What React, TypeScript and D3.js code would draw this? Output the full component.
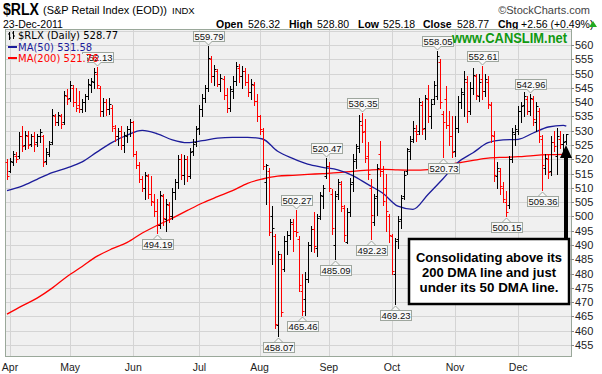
import React from 'react';
import * as d3 from 'd3';

// daily OHLC, Mar 31 2011 .. Dec 23 2011
const opens = [
  519, 516, 519, 521, 521, 528, 525, 528, 525.5, 528, 526, 528, 528, 519.5, 522, 526, 535, 533, 535, 533,
  542, 541.5, 545, 540, 539, 537.5, 540, 542, 546, 547, 550, 545, 537, 540, 537.5, 538, 531, 528, 530, 525,
  528, 530.5, 533, 522, 518, 513, 510, 514, 508, 505, 502, 497, 507, 499, 504, 500, 508.5, 512, 520, 514.5,
  520, 514, 523, 526, 531, 537.5, 541.5, 545, 555, 549, 551, 546.5, 548, 542.5, 538, 544, 547.5, 552, 549, 551,
  547, 543.5, 546, 540.5, 535, 530, 512, 516, 500, 493, 462, 485, 481.5, 491.5, 493.5, 497.5, 495, 492, 474, 471,
  478, 490, 495.5, 489, 500, 507, 514, 517.5, 508, 490, 508, 511.5, 503, 491, 501.5, 512, 520, 524, 532, 530,
  521, 510, 498, 507, 522, 516, 510, 500, 493, 480, 492, 499, 507, 516, 523, 527, 530, 530, 539, 531,
  541, 535, 541, 542, 554, 536, 541, 532, 528, 523, 531, 540, 543, 547, 537, 545, 549, 542, 548, 544,
  547, 539, 528, 514, 516, 510, 505, 504, 520, 529, 530, 537, 539, 541, 537, 541, 533, 537, 527, 517,
  520, 516, 526, 521, 527, 525.5, 526.32,
];
const highs = [
  520, 520.5, 523, 522.5, 529.5, 531.5, 530, 530, 529, 529.5, 529, 530.5, 528.5, 524, 526.5, 537.5, 536, 536.5, 536, 544,
  544.5, 547.5, 546, 545, 544, 541, 543, 548, 548.5, 552, 552.13, 545.5, 541.5, 541, 541.5, 539, 532, 531, 531.5, 529.5,
  531.5, 534, 533.5, 523, 519, 514, 515.5, 515, 514, 508, 506, 509, 508, 506, 505, 510, 513, 521.5, 522, 521.5,
  521, 524, 527, 531.5, 539, 543, 546, 559.79, 556, 553, 551.5, 550, 549, 545, 545.5, 549, 554, 553.5, 552.5, 552,
  550, 548, 547, 543, 535.5, 531, 518.5, 517, 503.5, 494, 488, 487, 493, 495, 499, 499, 502.27, 493, 480, 480.5,
  491, 496.5, 501.5, 501, 508.5, 511, 520.47, 519, 509.5, 509, 513, 512.5, 504, 503, 513.5, 522, 525.5, 535.5, 536.35, 534,
  526, 513, 508, 518.5, 526.5, 517.5, 515, 501, 494, 492.5, 500, 507.5, 516, 524, 528, 533.5, 532, 541.5, 540.5, 542.5,
  546, 541, 547.5, 558.05, 555, 537, 545.5, 537, 535, 535, 542, 545, 551, 549, 547, 552, 550, 550, 552.61, 550,
  549, 540, 530, 519, 517, 512, 509, 521, 531, 532, 538.5, 540, 543.5, 542, 542.96, 542, 540, 538, 528.5, 522,
  521.5, 528, 530, 531, 530, 529, 528.8,
];
const lows = [
  513, 515.5, 518, 519, 520.5, 523, 523.5, 524, 524.5, 523, 524.5, 526, 517.5, 518.5, 521, 525.5, 532, 532, 531, 532.5,
  539.5, 540.5, 538.5, 537, 536.5, 536.5, 537, 541, 543.5, 545, 545, 535, 535, 535.5, 536, 530, 526.5, 525, 523.5, 522.5,
  526, 528, 521, 517, 512, 509, 506, 506.5, 504, 500, 494.19, 496, 497, 495, 498, 499, 506, 510, 513, 511.5,
  512.5, 513.5, 521.5, 524.5, 529, 535, 540, 544, 547, 546, 545.5, 544, 541, 536.5, 537, 541.5, 546, 547, 545, 546,
  542, 541, 539, 533.5, 529, 516.5, 504.5, 493.5, 483.5, 461, 458.07, 465, 481, 487, 492, 488, 493, 474, 465.46, 465.5,
  477, 488, 487.5, 486, 499, 503, 513.5, 509, 494, 485.09, 506, 502, 491.5, 490.6, 500, 509, 517, 522.5, 526, 519,
  513, 492.23, 497, 500.5, 514, 504, 495, 491, 480, 469.23, 489, 496, 506, 515, 520, 526, 526.5, 529, 529, 527,
  533, 531, 539.5, 541, 538, 520.73, 531, 525, 520.9, 521, 529.5, 538, 535, 533, 536, 543, 541, 540.5, 541, 542,
  538, 526, 512.5, 510, 508, 505, 500.15, 503, 519, 525, 529, 533, 535, 536, 535.5, 532, 530, 526, 509.36, 515,
  513.5, 514.5, 523, 515, 524, 523, 525.18,
];
const closes = [
  514, 519.5, 522, 520, 528, 524.5, 528.5, 525, 528, 525.5, 528, 529.5, 519, 522.5, 525.5, 535.5, 533, 535.5, 532.5, 542.5,
  541, 546, 540, 538, 537.5, 540, 542, 546.5, 547.5, 550.5, 546, 537, 540, 537.5, 539.5, 531.5, 528, 530, 525, 528.5,
  530.5, 533, 522, 518, 513, 510, 514.5, 508, 505.5, 502, 497, 507.5, 499.5, 504.5, 500, 508.5, 512, 520, 514.5, 520,
  514, 522.5, 525.5, 530.5, 537.5, 541.5, 545, 555.5, 549, 551.5, 546.5, 548.5, 542.5, 538, 544.5, 547.5, 552.5, 549, 551, 547,
  543.5, 546.5, 540.5, 535, 530.5, 517.5, 518, 494.5, 496, 462.5, 487, 466.5, 491.5, 493.5, 498, 495, 494.5, 476, 467, 478,
  490, 495.5, 489.5, 499.5, 507.5, 510, 517.5, 510, 496, 507, 512, 503.5, 493.5, 501.5, 511.5, 519.5, 524.5, 533.5, 529.5, 520.5,
  515, 500.5, 506.5, 517, 516, 505.5, 502, 493.5, 481, 491.5, 498.5, 506.5, 514.5, 523.5, 526.5, 531, 529, 540, 530.5, 541.5,
  535, 539.5, 546, 556, 540, 533, 532, 528, 522.5, 531, 540, 543.5, 548, 537, 545, 549.5, 542.5, 547, 544, 548,
  539.5, 528.5, 514.5, 517, 510.5, 506, 501.5, 520, 529.5, 530.5, 537, 538.5, 542, 537, 541.5, 534, 538.5, 528, 518, 520.5,
  515.5, 526, 524.5, 528, 525.5, 526.21, 528.77,
];

// moving averages, read every 5 bars
const maIdx = [0, 5, 10, 15, 20, 25, 30, 35, 40, 45, 50, 55, 60, 65, 70, 75, 80, 85, 90, 95, 100, 105, 110, 115, 120, 125, 130, 135, 140, 145, 150, 155, 160, 165, 170, 175, 180, 185, 186];
const ma50 = [509, 510.6, 513, 515.3, 517, 519.1, 522.6, 525.9, 528.5, 530.1, 528.9, 526.8, 525.8, 526.5, 527.4, 527.7, 527.7, 527.1, 522.8, 520.3, 518.3, 517.2, 516.3, 514.3, 511.2, 508.1, 503.6, 502.5, 507.7, 513.2, 519, 522.3, 525.8, 526.8, 527, 529.2, 531.3, 531.9, 531.58];
const ma200 = [465.8, 468.7, 471.4, 474.9, 479, 482.5, 486.1, 488.7, 490.9, 494.2, 496.9, 499.4, 502.1, 504.7, 506.9, 509, 511.6, 513.1, 514.1, 514.4, 514.7, 515, 515.3, 515.8, 516.2, 516.5, 516.3, 516.2, 516.4, 517.8, 518.7, 519.6, 520.4, 520.7, 520.9, 521.3, 521.6, 521.75, 521.76];

const months = ['Apr', 'May', 'Jun', 'Jul', 'Aug', 'Sep', 'Oct', 'Nov', 'Dec'];
const monthIdx = [1, 21, 42, 64, 84, 107, 128, 149, 170];

const yTicks = d3.range(455, 561, 5);

const labelIdx = [30, 67, 96, 106, 118, 143, 158, 174, 50, 90, 98, 109, 121, 129, 145, 166, 178];
const labelVal = [552.13, 559.79, 502.27, 520.47, 536.35, 558.05, 552.61, 542.96, 494.19, 458.07, 465.46, 485.09, 492.23, 469.23, 520.73, 500.15, 509.36];
const labelUp = [true, true, true, true, true, true, true, true, false, false, false, false, false, false, false, false, false];

// header quote line
const quoteNames = ['Open', 'High', 'Low', 'Close', 'Chg'];
const quoteValues = ['526.32', '528.80', '525.18', '528.77', '+2.56 (+0.49%)'];
const quoteX = [216, 289, 358, 423, 498];
const quoteValX = [248, 317, 383, 457, 521];

const noteLines = ['Consolidating above its', '200 DMA line and just', 'under its 50 DMA line.'];
const noteWidths = [146, 134, 139];

const W = 602, H = 374;
const left = 5, right = 571, top = 29, bottom = 356;
const FONT = 'Liberation Sans, Arial, sans-serif';

export default function App() {
  const x = d3.scaleLinear().domain([0, closes.length - 1]).range([7, 566.3]);
  const y = d3.scaleLinear().domain([455, 560]).range([345, 45]);

  const lineFn = d3.line<number>()
    .x((_, k) => x(maIdx[k]))
    .y(d => y(d))
    .curve(d3.curveMonotoneX);

  const px = (v: number) => Math.round(v) + 0.5;

  return (
    <div style={{ position: 'absolute', left: 0, top: 0 }}>
      <svg width={W} height={H} style={{ display: 'block', background: '#fff' }}>
        {/* header */}
        <text x={3} y={14.5} fontFamily={FONT} fontWeight="bold" fontSize={16} textLength={36} lengthAdjust="spacingAndGlyphs">$RLX</text>
        <text x={43} y={14} fontFamily={FONT} fontSize={11.5} textLength={124} lengthAdjust="spacingAndGlyphs">(S&amp;P Retail Index (EOD))</text>
        <text x={172} y={14} fontFamily={FONT} fontSize={9.5}>INDX</text>
        <text x={590} y={14} fontFamily={FONT} fontSize={11} fill="#444" textAnchor="end">©StockCharts.com</text>

        <text x={3} y={28} fontFamily={FONT} fontSize={10.5}>23-Dec-2011</text>
        {quoteNames.map((n, k) => (
          <g key={'q' + k} fontFamily={FONT} fontSize={10.5}>
            <text x={quoteX[k]} y={28} fontWeight="bold">{n}</text>
            <text x={quoteValX[k]} y={28}>{quoteValues[k]}</text>
          </g>
        ))}
        <path d="M589,27 L593,21 L597,27 Z" fill="#22aa22" />

        {/* plot */}
        <rect x={left} y={top} width={right - left} height={bottom - top} fill="#f0f0f0" />
        {yTicks.map(t => (
          <line key={'h' + t} x1={left} x2={right} y1={px(y(t))} y2={px(y(t))} stroke="#d4d4d4" />
        ))}
        <line x1={left} x2={right} y1={px(y(565))} y2={px(y(565))} stroke="#d4d4d4" />
        {monthIdx.map(m => (
          <line key={'v' + m} x1={px(x(m))} x2={px(x(m))} y1={top} y2={bottom} stroke="#d4d4d4" />
        ))}
        <rect x={left + 0.5} y={top + 0.5} width={right - left} height={bottom - top} fill="none" stroke="#9aa89a" />

        {/* moving averages */}
        <path d={lineFn(ma200) || ''} fill="none" stroke="#ff0000" strokeWidth={1.3} />
        <path d={lineFn(ma50) || ''} fill="none" stroke="#1c1c9a" strokeWidth={1.3} />

        {/* bars */}
        {closes.map((c, i) => {
          const bx = px(x(i));
          const prev = i > 0 ? closes[i - 1] : opens[0];
          const col = c < prev ? '#ff0000' : '#000000';
          return (
            <g key={'b' + i} stroke={col} strokeWidth={1}>
              <line x1={bx} x2={bx} y1={Math.round(y(highs[i]))} y2={Math.round(y(lows[i])) + 1} />
              <line x1={bx - 2} x2={bx} y1={px(y(opens[i]))} y2={px(y(opens[i]))} />
              <line x1={bx} x2={bx + 2} y1={px(y(c))} y2={px(y(c))} />
            </g>
          );
        })}

        {/* price labels */}
        {labelIdx.map((li, k) => {
          const cx = px(x(li));
          const lw = 31, lh = 10;
          const up = labelUp[k];
          const by = up ? Math.round(y(labelVal[k])) - 5 - lh : Math.round(y(labelVal[k])) + 6;
          const ptr = up
            ? `M${cx - 4},${by + lh} L${cx},${by + lh + 4} L${cx + 4},${by + lh}`
            : `M${cx - 4},${by} L${cx},${by - 4} L${cx + 4},${by}`;
          return (
            <g key={'l' + k}>
              <rect x={Math.round(cx - lw / 2) + 0.5} y={by + 0.5} width={lw} height={lh} fill="#f8f8f8" stroke="#9ea69e" />
              <path d={ptr} fill="#f8f8f8" stroke="#9ea69e" />
              <text x={cx + 0.5} y={by + lh - 1.5} fontFamily={FONT} fontSize={9.5} textAnchor="middle" fill="#111">
                {labelVal[k].toFixed(2)}
              </text>
            </g>
          );
        })}

        {/* legend */}
        <g fontFamily="DejaVu Sans, Verdana, sans-serif" fontSize={10}>
          <path d="M9.5,32 V40 M8,34 H9.5 M9.5,38 H11 M13.5,31 V39 M12,33 H13.5 M13.5,36 H15" stroke="#000" fill="none" />
          <text x={18} y={39}>$RLX (Daily) 528.77</text>
          <rect x={8} y={46} width={9} height={2} fill="#1c1c9a" />
          <text x={18} y={51} fill="#1c1c9a">MA(50) 531.58</text>
          <rect x={17} y={54} width={70} height={10} fill="#f0f0f0" />
          <rect x={8} y={57} width={9} height={2} fill="#ff0000" />
          <text x={18} y={62} fill="#ff0000">MA(200) 521.76</text>
        </g>

        <text x={567} y={43} fontFamily={FONT} fontWeight="bold" fontSize={14} fill="#119911" textAnchor="end" textLength={115} lengthAdjust="spacingAndGlyphs">www.CANSLIM.net</text>

        {/* right axis */}
        {yTicks.map(t => (
          <g key={'t' + t}>
            <line x1={right} x2={right + 3} y1={px(y(t))} y2={px(y(t))} stroke="#888" />
            <text x={575} y={y(t) + 4} fontFamily={FONT} fontSize={11} fill="#222">{t}</text>
          </g>
        ))}

        {/* month axis */}
        {monthIdx.map((m, k) => (
          <text key={'m' + k} x={x(m)} y={371} fontFamily={FONT} fontSize={10.5} fill="#222" textAnchor="middle">{months[k]}</text>
        ))}

        {/* annotation */}
        <rect x={409} y={239} width={160} height={65} fill="#fff" stroke="#000" strokeWidth={2.5} />
        {noteLines.map((s, k) => (
          <text key={'n' + k} x={489} y={262 + k * 15} fontFamily={FONT} fontWeight="bold" fontSize={13.5} textAnchor="middle" textLength={noteWidths[k]} lengthAdjust="spacingAndGlyphs">{s}</text>
        ))}
        <rect x={564} y={157} width={4} height={81} fill="#000" />
        <path d="M560,158 L572,158 L566,145 Z" fill="#000" />
      </svg>
    </div>
  );
}
